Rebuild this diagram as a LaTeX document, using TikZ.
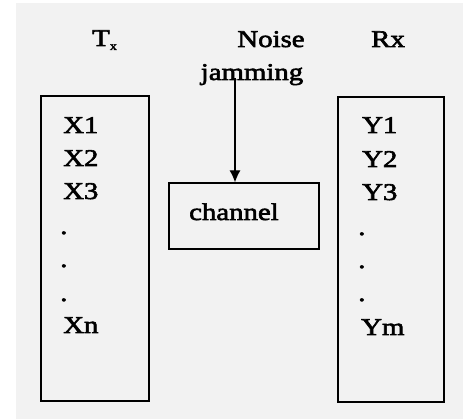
\documentclass[tikz,border=0pt]{standalone}
\usepackage{fontspec}
\setmainfont[FakeStretch=1.2,FakeBold=2.5]{Liberation Serif}
\usetikzlibrary{arrows.meta}
\definecolor{paper}{HTML}{F2F2F2}
\begin{document}
\begin{tikzpicture}[x=1pt,y=-1pt,
  lbl/.style={inner sep=0pt,font=\fontsize{24}{28}\selectfont},
  itm/.style={lbl,anchor=base west},
  boxline/.style={draw=black,line width=1.3pt},
  arr/.style={draw=black,line width=1.1pt,-{Latex[length=12pt,width=11pt]}}]
\useasboundingbox (0,0) rectangle (463,419);
\fill[white] (0,0) rectangle (463,419);
\fill[paper] (16,3) rectangle (463,419);
% boxes
\draw[boxline] (41,96) rectangle (149,401);
\draw[boxline] (338,97) rectangle (444,402);
\node[boxline,minimum width=150pt,minimum height=66pt,inner sep=0pt] (ch) at (244,216) {};
% headings
\node[lbl,anchor=base west] (tx) at (92,46) {T\raisebox{-4pt}{\fontsize{12}{12}\selectfont x}};
\node[lbl,anchor=base] (noise) at (271,47) {Noise};
\node[lbl,anchor=base] (rx) at (388,47) {Rx};
\node[lbl,anchor=base] (jam) at (252,80) {jamming};
\node[itm] (chtxt) at (189,220) {channel};
% transmitter items
\node[itm] (x1) at (63,133) {X1};
\node[itm] (x2) at (63,166) {X2};
\node[itm] (x3) at (63,199) {X3};
\node[itm] (xd1) at (60,234) {.};
\node[itm] (xd2) at (60,267) {.};
\node[itm] (xd3) at (60,301) {.};
\node[itm] (xn) at (63,333) {Xn};
% receiver items
\node[itm] (y1) at (362,133) {Y1};
\node[itm] (y2) at (362,167) {Y2};
\node[itm] (y3) at (362,200) {Y3};
\node[itm] (yd1) at (358,235) {.};
\node[itm] (yd2) at (358,268) {.};
\node[itm] (yd3) at (358,301) {.};
\node[itm] (ym) at (361,335) {Ym};
% arrow
\coordinate (src) at (235,78);
\draw[arr] (src) -- (src |- ch.north);
\end{tikzpicture}
\end{document}
